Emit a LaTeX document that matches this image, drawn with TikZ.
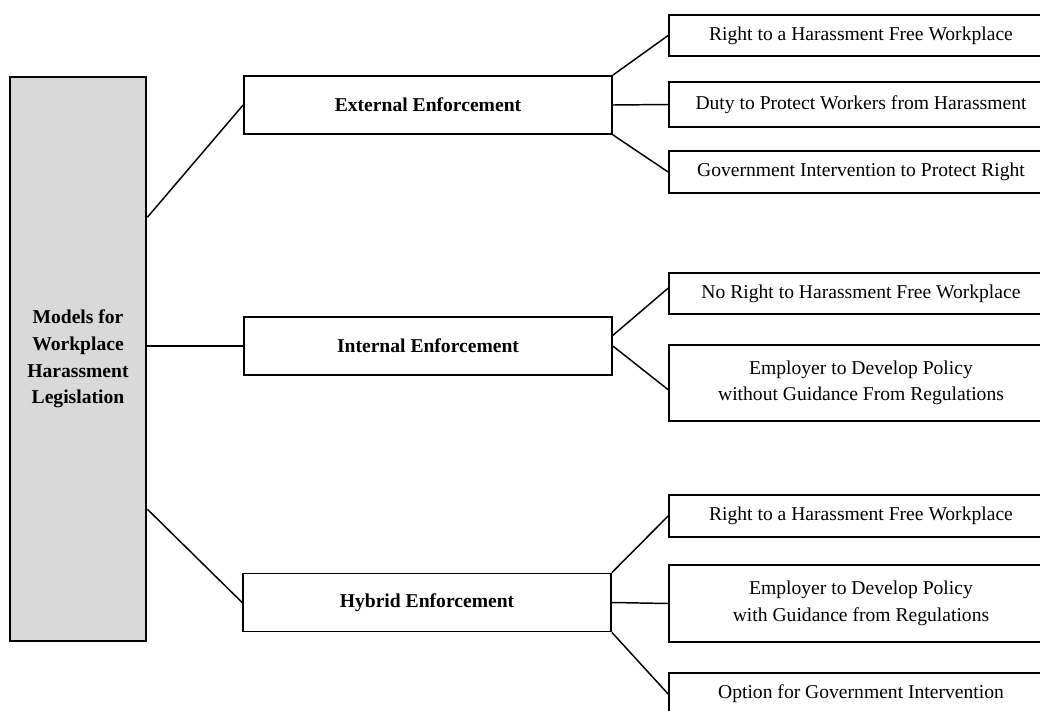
\documentclass[tikz,border=0pt]{standalone}
\usepackage{fontspec}
\setmainfont{Liberation Serif}
\usetikzlibrary{calc}
\definecolor{boxgray}{RGB}{217,217,217}
\tikzset{
  rootbox/.style={draw, line width=2pt, fill=boxgray, inner sep=0pt, align=center,
    minimum width=102pt, minimum height=423pt, font=\fontsize{14.7}{19.9}\selectfont\bfseries},
  modelbox/.style={draw, line width=1.3pt, inner sep=0pt, align=center,
    minimum width=276pt, minimum height=43.5pt, font=\fontsize{14.7}{19.9}\selectfont\bfseries},
  itembox/.style={draw, line width=1.3pt, inner sep=0pt, align=center,
    minimum width=288pt, font=\fontsize{14.7}{19.9}\selectfont},
  link/.style={line width=1.1pt}
}
\begin{document}
\begin{tikzpicture}[x=0.75pt,y=0.75pt,yscale=-1,xscale=1]
\useasboundingbox (0,0) rectangle (1040,711);

%Shape: Rectangle [id:root]
\node [rootbox] (models) at (78,359) {Models for\\Workplace\\Harassment\\Legislation};

%Shape: Rectangle [id:ext]
\node [modelbox] (external) at (428,105) {External Enforcement};
%Shape: Rectangle [id:int]
\node [modelbox] (internal) at (428,346) {Internal Enforcement};
%Shape: Rectangle [id:hyb]
\node [modelbox] (hybrid) at (427,602.5) {Hybrid Enforcement};

% Text Node
\node [itembox, minimum height=30.75pt] (extright) at (861,35.5) {Right to a Harassment Free Workplace};
\node [itembox, minimum height=33.75pt] (extduty) at (861,104.5) {Duty to Protect Workers from Harassment};
\node [itembox, minimum height=31.5pt] (extgov) at (861,172) {Government Intervention to Protect Right};

\node [itembox, minimum height=30.75pt] (intnoright) at (861,293.5) {No Right to Harassment Free Workplace};
\node [itembox, minimum height=57pt] (intpolicy) at (861,383) {Employer to Develop Policy\\without Guidance From Regulations};

\node [itembox, minimum height=31.5pt] (hybright) at (861,516) {Right to a Harassment Free Workplace};
\node [itembox, minimum height=57.75pt] (hybpolicy) at (861,603.5) {Employer to Develop Policy\\with Guidance from Regulations};
\node [itembox, minimum height=31.5pt] (hybgov) at (861,694) {Option for Government Intervention};

%Straight Lines [id:root links]
\draw [link] ($(models.north east)!0.25!(models.south east)$) -- (external.west);
\draw [link] (models.east |- internal.west) -- (internal.west);
\draw [link] ($(models.north east)!0.765!(models.south east)$) -- (hybrid.west);

%Straight Lines [id:external links]
\draw [link] (external.north east) -- (extright.west);
\draw [link] (external.east) -- (extduty.west);
\draw [link] (external.south east) -- (extgov.west);

%Straight Lines [id:internal links]
\draw [link] ([yshift=-8pt]internal.east) -- ([yshift=-4pt]intnoright.west);
\draw [link] (internal.east) -- ([yshift=5pt]intpolicy.west);

%Straight Lines [id:hybrid links]
\draw [link] (hybrid.north east) -- (hybright.west);
\draw [link] (hybrid.east) -- (hybpolicy.west);
\draw [link] (hybrid.south east) -- (hybgov.west);

\end{tikzpicture}
\end{document}
